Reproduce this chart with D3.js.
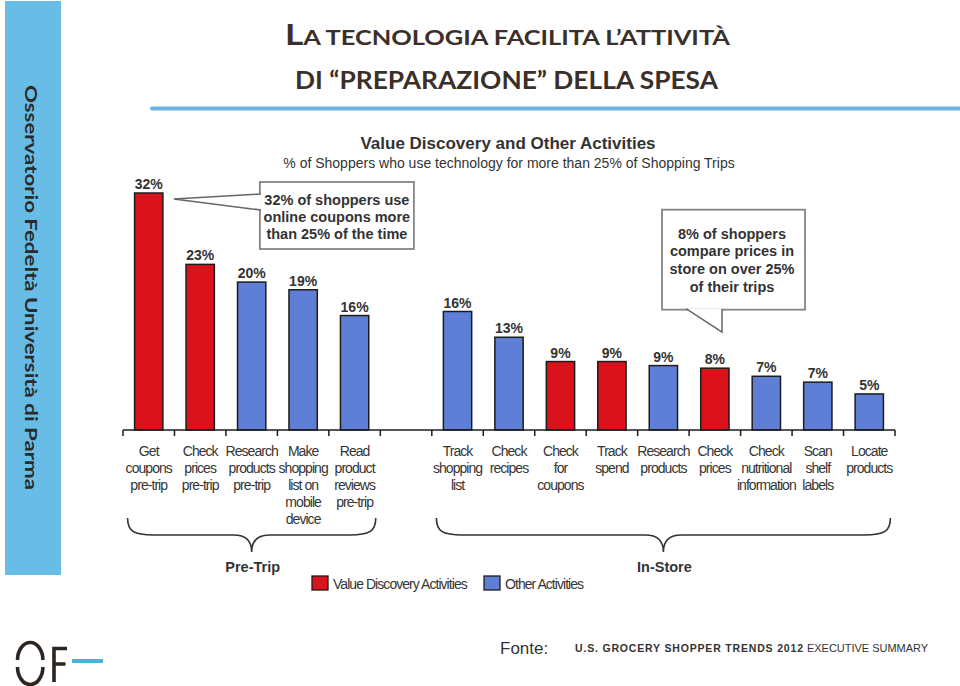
<!DOCTYPE html>
<html>
<head>
<meta charset="utf-8">
<script src="https://cdn.jsdelivr.net/npm/d3@7/dist/d3.min.js"></script>
<style>
  html, body { margin: 0; padding: 0; background: #ffffff; }
  svg { display: block; }
</style>
</head>
<body>
<script>
// ---------------- DATA ----------------
const categories = [
  ["Get", "coupons", "pre-trip"],
  ["Check", "prices", "pre-trip"],
  ["Research", "products", "pre-trip"],
  ["Make", "shopping", "list on", "mobile", "device"],
  ["Read", "product", "reviews", "pre-trip"],
  ["Track", "shopping", "list"],
  ["Check", "recipes"],
  ["Check", "for", "coupons"],
  ["Track", "spend"],
  ["Research", "products"],
  ["Check", "prices"],
  ["Check", "nutritional", "information"],
  ["Scan", "shelf", "labels"],
  ["Locate", "products"]
];
const groups = ["Pre-Trip","Pre-Trip","Pre-Trip","Pre-Trip","Pre-Trip",
  "In-Store","In-Store","In-Store","In-Store","In-Store","In-Store","In-Store","In-Store","In-Store"];
const values = [32.2, 22.5, 20.1, 19.05, 15.55, 16.1, 12.6, 9.3, 9.3, 8.75, 8.4, 7.3, 6.5, 4.9];
const valueLabels = ["32%","23%","20%","19%","16%","16%","13%","9%","9%","9%","8%","7%","7%","5%"];
const types = ["value","value","other","other","other","other","other","value","value","other","value","other","other","other"];
const typeNames = { value: "Value Discovery Activities", other: "Other Activities" };
const groupNames = ["Pre-Trip", "In-Store"];
const callout1 = ["32% of shoppers use", "online coupons more", "than 25% of the time"];
const callout2 = ["8% of shoppers", "compare prices in", "store on over 25%", "of their trips"];

// ---------------- SETUP ----------------
const W = 960, H = 686;
const svg = d3.select("body").append("svg").attr("width", W).attr("height", H);
const colors = { value: "#d9121b", other: "#5f7fd6" };
const ARIAL = "'Liberation Sans', Arial, sans-serif";
const CAL = "Lato, 'Open Sans', sans-serif";

// sidebar
svg.append("rect").attr("x", 5).attr("y", 1).attr("width", 56).attr("height", 574).attr("fill", "#67bde6");
svg.append("text")
  .attr("transform", "translate(25,85) rotate(90)")
  .attr("font-family", CAL).attr("font-weight", 700).attr("font-size", 17)
  .attr("fill", "#2b2b2b")
  .attr("textLength", 405).attr("lengthAdjust", "spacingAndGlyphs")
  .text("Osservatorio Fedeltà Università di Parma");

// page title
const t1 = svg.append("text").attr("x", 285).attr("y", 45)
  .attr("font-family", CAL).attr("font-weight", 700).attr("fill", "#3b2f2a")
  .attr("textLength", 445).attr("lengthAdjust", "spacingAndGlyphs");
t1.append("tspan").attr("font-size", 29).text("L");
t1.append("tspan").attr("font-size", 21).text("A TECNOLOGIA FACILITA L’ATTIVITÀ");
svg.append("text").attr("x", 295).attr("y", 89)
  .attr("font-family", CAL).attr("font-weight", 700).attr("fill", "#3b2f2a")
  .attr("font-size", 24)
  .attr("textLength", 423).attr("lengthAdjust", "spacingAndGlyphs")
  .text("DI “PREPARAZIONE” DELLA SPESA");
svg.append("line").attr("x1", 152).attr("x2", 960).attr("y1", 108.5).attr("y2", 108.5)
  .attr("stroke", "#6ab6de").attr("stroke-width", 4).attr("stroke-linecap", "round");

// chart title
svg.append("text").attr("x", 508).attr("y", 149).attr("text-anchor", "middle")
  .attr("font-family", ARIAL).attr("font-weight", 700).attr("font-size", 17).attr("fill", "#333")
  .text("Value Discovery and Other Activities");
svg.append("text").attr("x", 509).attr("y", 167.5).attr("text-anchor", "middle")
  .attr("font-family", ARIAL).attr("font-size", 14).attr("fill", "#333")
  .text("% of Shoppers who use technology for more than 25% of Shopping Trips");

// ---------------- SCALES ----------------
const nSlots = categories.length + 1; // one empty slot between groups
const slotOf = i => groups[i] === groupNames[0] ? i : i + 1;
const x = d3.scaleBand().domain(d3.range(nSlots)).range([123, 895])
  .paddingInner(0.45).paddingOuter(0.225);
const y = d3.scaleLinear().domain([0, 32.2]).range([430, 193]);
const bw = x.bandwidth();
const step = x.step();

const data = categories.map((c, i) => ({ lines: c, group: groups[i], v: values[i], label: valueLabels[i], type: types[i], slot: slotOf(i) }));

// bars
svg.append("g").selectAll("rect").data(data).join("rect")
  .attr("x", d => x(d.slot)).attr("y", d => y(d.v))
  .attr("width", bw).attr("height", d => y(0) - y(d.v))
  .attr("fill", d => colors[d.type]).attr("stroke", "#1c1c1c").attr("stroke-width", 1.5);

// value labels
svg.append("g").selectAll("text").data(data).join("text")
  .attr("x", d => x(d.slot) + bw / 2).attr("y", d => y(d.v) - 4)
  .attr("text-anchor", "middle").attr("font-family", ARIAL).attr("font-weight", 700)
  .attr("font-size", 14).attr("fill", "#333").text(d => d.label);

// axis
const axisG = svg.append("g");
axisG.append("line").attr("x1", x.range()[0]).attr("x2", x.range()[1]).attr("y1", y(0)).attr("y2", y(0))
  .attr("stroke", "#1c1c1c").attr("stroke-width", 1.5);
axisG.selectAll("line.tick").data(d3.range(nSlots + 1)).join("line").attr("class", "tick")
  .attr("x1", k => x.range()[0] + k * step).attr("x2", k => x.range()[0] + k * step)
  .attr("y1", y(0)).attr("y2", y(0) + 6).attr("stroke", "#1c1c1c").attr("stroke-width", 1.5);

// category labels
const catG = svg.append("g").attr("font-family", ARIAL).attr("font-size", 14)
  .attr("letter-spacing", -0.95).attr("fill", "#353535").attr("text-anchor", "middle");
data.forEach(d => {
  const t = catG.append("text").attr("x", x(d.slot) + bw / 2).attr("y", 455.5);
  d.lines.forEach((ln, j) => {
    t.append("tspan").attr("x", x(d.slot) + bw / 2).attr("dy", j === 0 ? 0 : 17.2).text(ln);
  });
});

// group braces
function brace(x0, x1, yTop, yMid, yTip) {
  const xm = (x0 + x1) / 2;
  return `M${x0},${yTop} C${x0},${yMid - 4} ${x0 + 6},${yMid} ${x0 + 26},${yMid} ` +
    `L${xm - 18},${yMid} C${xm - 6},${yMid} ${xm},${yMid + 5} ${xm},${yTip} ` +
    `C${xm},${yMid + 5} ${xm + 6},${yMid} ${xm + 18},${yMid} ` +
    `L${x1 - 26},${yMid} C${x1 - 6},${yMid} ${x1},${yMid - 4} ${x1},${yTop}`;
}
groupNames.forEach(g => {
  const slots = data.filter(d => d.group === g).map(d => d.slot);
  const x0 = x(d3.min(slots)) - 7, x1 = x(d3.max(slots)) + bw + 7;
  svg.append("path").attr("d", brace(x0, x1, 518, 535, 552))
    .attr("fill", "none").attr("stroke", "#333").attr("stroke-width", 1.6);
  svg.append("text").attr("x", (x0 + x1) / 2 + 1).attr("y", 572).attr("text-anchor", "middle")
    .attr("font-family", ARIAL).attr("font-weight", 700).attr("font-size", 14.5)
    .attr("fill", "#333").text(g);
});

// legend
const legend = [{ key: "value", x: 312 }, { key: "other", x: 484 }];
legend.forEach(l => {
  svg.append("rect").attr("x", l.x).attr("y", 576).attr("width", 16).attr("height", 14)
    .attr("fill", colors[l.key]).attr("stroke", "#1c1c1c").attr("stroke-width", 1.3);
  svg.append("text").attr("x", l.x + 21).attr("y", 589)
    .attr("font-family", ARIAL).attr("font-size", 14).attr("letter-spacing", -0.95)
    .attr("fill", "#353535").text(typeNames[l.key]);
});

// callouts
function drawCallout(boxX, boxY, boxW, boxH, pointerPts, lines, cx, firstBase, lh) {
  const g = svg.append("g");
  g.append("rect").attr("x", boxX).attr("y", boxY).attr("width", boxW).attr("height", boxH)
    .attr("fill", "#fff").attr("stroke", "#858585").attr("stroke-width", 1.8);
  g.append("polygon").attr("points", pointerPts.map(p => p.join(",")).join(" "))
    .attr("fill", "#fff").attr("stroke", "none");
  g.append("polyline").attr("points", pointerPts.map(p => p.join(",")).join(" "))
    .attr("fill", "none").attr("stroke", "#666").attr("stroke-width", 1.5);
  lines.forEach((ln, j) => {
    g.append("text").attr("x", cx).attr("y", firstBase + j * lh).attr("text-anchor", "middle")
      .attr("font-family", ARIAL).attr("font-weight", 700).attr("font-size", 14.5)
      .attr("fill", "#333").text(ln);
  });
}
// callout 1 anchored to first bar
{
  const d = data[0];
  const tipX = x(d.slot) + bw + 11, tipY = y(d.v) + 6;
  const bx = tipX + 86, by = y(d.v) - 11, bwid = 154, bh = 67;
  drawCallout(bx, by, bwid, bh, [[bx + 1, tipY - 5], [tipX, tipY], [bx + 1, tipY + 11]],
    callout1, bx + 77, by + 23, 17);
}
// callout 2 anchored to in-store "Check prices"
{
  const d = data[10];
  const tipX = x(d.slot) + bw - 7, tipY = y(d.v) - 36;
  const bx = tipX - 60, by = tipY - 122.5, bwid = 143, bh = 100;
  drawCallout(bx, by, bwid, bh, [[tipX - 36, by + bh - 1], [tipX, tipY], [tipX, by + bh - 1]],
    callout2, bx + 70, by + 29, 17.8);
}

// footer
svg.append("text").attr("x", 500).attr("y", 654).attr("font-family", ARIAL).attr("font-size", 17)
  .attr("fill", "#333").text("Fonte:");
svg.append("text").attr("x", 575).attr("y", 652).attr("font-family", ARIAL).attr("font-weight", 700)
  .attr("font-size", 10.5).attr("fill", "#333").attr("textLength", 228).attr("lengthAdjust", "spacing")
  .text("U.S. GROCERY SHOPPER TRENDS 2012");
svg.append("text").attr("x", 807).attr("y", 652).attr("font-family", ARIAL)
  .attr("font-size", 10.5).attr("fill", "#333").attr("textLength", 121).attr("lengthAdjust", "spacingAndGlyphs")
  .text("EXECUTIVE SUMMARY");

// logo
const logo = svg.append("g").attr("fill", "none").attr("stroke", "#2d2520").attr("stroke-width", 3.6);
logo.append("path").attr("d", "M17.5,660 A12.7,17.5 0 0 1 42.9,660");
logo.append("path").attr("d", "M17.5,667 A12.7,17.5 0 0 0 42.9,667");
logo.append("path").attr("d", "M54,682 L54,648.5 L67,648.5 M54,664 L65.5,664");
svg.append("line").attr("x1", 72).attr("x2", 103).attr("y1", 661).attr("y2", 661)
  .attr("stroke", "#4fb0d8").attr("stroke-width", 4);
</script>
</body>
</html>
